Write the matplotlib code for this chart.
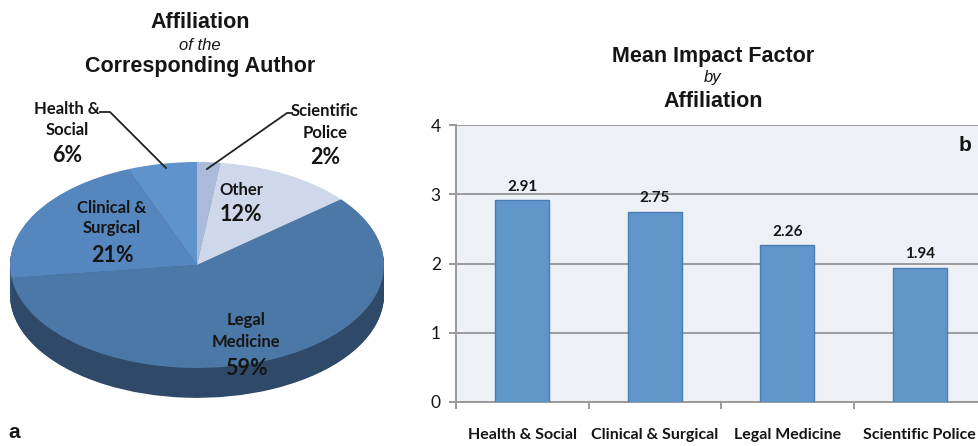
import matplotlib.pyplot as plt
import matplotlib.colors as mcolors

# pie: affiliation of corresponding author (clockwise from 12 o'clock)
pie_labels = ['Scientific\nPolice', 'Other', 'Legal\nMedicine', 'Clinical &\nSurgical', 'Health &\nSocial']
pie_pct = [2, 12, 59, 21, 6]
pie_colors = ['#a9bbd9', '#cfd8ea', '#4b78a7', '#5586bd', '#5e93cb']

# bars: mean impact factor by affiliation
bar_cats = ['Health & Social', 'Clinical & Surgical', 'Legal Medicine', 'Scientific Police']
bar_vals = [2.91, 2.75, 2.26, 1.94]

W, H = 979, 446
fig = plt.figure(figsize=(W / 100, H / 100), dpi=100)
fig.patch.set_facecolor('white')

title_font = 'Liberation Sans'
lab_font = 'Lato'
ink = '#151515'


def px(x, y):
    return x / W, 1 - y / H


def ax_rect(left, top, right, bottom):
    return [left / W, 1 - bottom / H, (right - left) / W, (bottom - top) / H]


def title_block(x, rows):
    for text, base, italic in rows:
        fig.text(*px(x, base), text, ha='center', va='baseline',
                 fontsize=12 if italic else 15.5,
                 fontweight='normal' if italic else 'bold',
                 style='italic' if italic else 'normal',
                 family=title_font, color=ink)


# ---- panel a: tilted pie ----
axp = fig.add_axes(ax_rect(10, 162, 384, 368))
depth = 0.29
side_colors = [mcolors.to_hex([c * 0.62 for c in mcolors.to_rgb(col)]) for col in pie_colors]
n_layers = 40
for i in range(n_layers, 0, -1):
    axp.pie(pie_pct, colors=side_colors, startangle=90, counterclock=False,
            center=(0, -depth * i / n_layers), radius=1,
            wedgeprops=dict(linewidth=0))
axp.pie(pie_pct, colors=pie_colors, startangle=90, counterclock=False,
        wedgeprops=dict(linewidth=0))
axp.set_aspect('auto')
axp.set_xlim(-1, 1)
axp.set_ylim(-1, 1)
for p in axp.patches:
    p.set_clip_on(False)

title_block(200, [('Affiliation', 28, False), ('of the', 50, True),
                  ('Corresponding Author', 72, False)])


def slice_label(x, baselines, name, pct):
    lines = name.split('\n') + [f'{pct}%']
    for k, (line, base) in enumerate(zip(lines, baselines)):
        last = k == len(lines) - 1
        fig.text(*px(x, base), line, ha='center', va='baseline',
                 fontsize=15.5 if last else 12, fontweight='bold',
                 family=lab_font, color=ink)


slice_label(325, [116, 138, 164], pie_labels[0], pie_pct[0])
slice_label(241, [195, 221], pie_labels[1], pie_pct[1])
slice_label(246, [325, 347, 375], pie_labels[2], pie_pct[2])
slice_label(112, [213, 233, 262], pie_labels[3], pie_pct[3])
slice_label(67, [114, 135, 162], pie_labels[4], pie_pct[4])

# leader lines
for xs, ys in [([100, 110, 166], [112, 112, 168]), ([207, 287, 292], [169, 113, 113])]:
    fig.add_artist(plt.Line2D([x / W for x in xs], [1 - y / H for y in ys],
                              color='#222222', linewidth=1.3))

fig.text(*px(14, 438), 'a', ha='center', va='baseline', fontsize=15,
         fontweight='bold', family=title_font, color=ink)

# ---- panel b: bars ----
axb = fig.add_axes(ax_rect(456, 125, 986, 402))
axb.set_facecolor('#edf0f5')
xpos = list(range(len(bar_cats)))
axb.bar(xpos, bar_vals, width=0.41, color='#6096c9', edgecolor='#4a7db3',
        linewidth=1, zorder=3)
for x, v in zip(xpos, bar_vals):
    axb.text(x, v + 0.1, f'{v:.2f}', ha='center', va='bottom', fontsize=11,
             fontweight='bold', family=lab_font, color=ink)
axb.set_xlim(-0.5, 3.5)
axb.set_ylim(0, 4)
axb.set_yticks([0, 1, 2, 3, 4])
axb.yaxis.grid(True, color='#9a9a9a', linewidth=1.4, zorder=0)
axb.set_axisbelow(True)
axb.set_xticks([-0.5, 0.5, 1.5, 2.5])
axb.set_xticklabels([])
axb.set_xticks(xpos, minor=True)
axb.set_xticklabels(bar_cats, minor=True, fontsize=11.5, fontweight='bold',
                    family=lab_font, color=ink)
axb.tick_params(axis='x', which='major', length=5, color='#9a9a9a', width=1.4)
axb.tick_params(axis='x', which='minor', length=0, pad=19)
axb.tick_params(axis='y', length=5, color='#9a9a9a', width=1.4, labelsize=12.5, pad=6,
                labelcolor=ink)
for lab in axb.get_yticklabels():
    lab.set_family(lab_font)
for s in ['top', 'right']:
    axb.spines[s].set_visible(False)
for s in ['left', 'bottom']:
    axb.spines[s].set_color('#9a9a9a')
    axb.spines[s].set_linewidth(1.4)
axb.text(3.34, 3.71, 'b', ha='center', va='center', fontsize=15, fontweight='bold',
         family=title_font, color=ink)

title_block(713, [('Mean Impact Factor', 62, False), ('by', 82, True),
                  ('Affiliation', 107, False)])

fig.savefig('out.png', dpi=100)
